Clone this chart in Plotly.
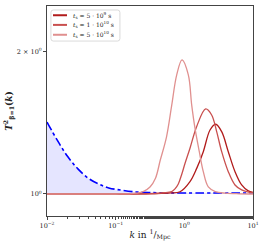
import plotly.graph_objects as go

# ---- data ----
k_dark = [0.01, 0.398, 0.631, 0.865, 1.209, 1.514, 1.888, 2.366, 2.864, 3.499, 4.365, 5.470, 6.839, 8.531, 10.0]
T_dark = [1.0, 1.002, 1.005, 1.011, 1.062, 1.133, 1.229, 1.366, 1.405, 1.355, 1.229, 1.115, 1.045, 1.015, 1.008]

k_mid = [0.01, 0.158, 0.316, 0.501, 0.655, 0.731, 0.817, 0.915, 1.022, 1.209, 1.514, 2.046, 2.500, 2.958, 3.499, 4.365, 5.470, 6.839, 9.036, 10.0]
T_mid = [1.0, 1.0, 1.002, 1.006, 1.012, 1.025, 1.05, 1.10, 1.16, 1.25, 1.39, 1.514, 1.470, 1.355, 1.229, 1.115, 1.045, 1.020, 1.008, 1.006]

k_light = [0.01, 0.1, 0.158, 0.1995, 0.2512, 0.3162, 0.3802, 0.4467, 0.5495, 0.6546, 0.7745, 0.9247, 1.1429, 1.2794, 1.4289, 1.652, 1.888, 2.2336, 2.8184, 3.981, 6.31, 10.0]
T_light = [1.0, 1.0, 1.001, 1.004, 1.012, 1.035, 1.08, 1.18, 1.32, 1.54, 1.787, 1.922, 1.787, 1.544, 1.378, 1.229, 1.115, 1.035, 1.012, 1.004, 1.001, 1.0]

k_blue = [0.01, 0.0141, 0.0200, 0.0282, 0.0398, 0.0562, 0.0794, 0.126, 0.200, 0.316, 1.0, 10.0]
T_blue = [1.42, 1.30, 1.20, 1.13, 1.08, 1.05, 1.03, 1.018, 1.01, 1.007, 1.005, 1.005]
T_base = [1.0] * len(k_blue)

labels = ["<i>t</i><sub>s</sub> = 5 · 10<sup>9</sup> s",
          "<i>t</i><sub>s</sub> = 1 · 10<sup>10</sup> s",
          "<i>t</i><sub>s</sub> = 5 · 10<sup>10</sup> s"]
colors = ["#b11b1b", "#c9504f", "#e0908f"]

x_tickvals = [0.01, 0.1, 1, 10]
x_ticktext = ["10<sup>−2</sup>", "10<sup>−1</sup>", "10<sup>0</sup>", "10<sup>1</sup>"]
y_tickvals = [1, 2]
y_ticktext = ["10<sup>0</sup>", "2 × 10<sup>0</sup>"]

font_family = "DejaVu Serif"

fig = go.Figure()

# fill under blue curve
fig.add_trace(go.Scatter(x=k_blue, y=T_base, mode="lines", line=dict(width=0, color="rgba(0,0,0,0)"),
                         showlegend=False, hoverinfo="skip", line_shape="spline"))
fig.add_trace(go.Scatter(x=k_blue, y=T_blue, mode="lines", fill="tonexty",
                         fillcolor="rgba(80,80,255,0.15)",
                         line=dict(color="#0000ff", width=1.6, dash="dashdot"),
                         showlegend=False, line_shape="spline"))

for kk, TT, lab, col in [(k_dark, T_dark, labels[0], colors[0]),
                         (k_mid, T_mid, labels[1], colors[1]),
                         (k_light, T_light, labels[2], colors[2])]:
    fig.add_trace(go.Scatter(x=kk, y=TT, mode="lines", name=lab, showlegend=False,
                             line=dict(color=col, width=1.3), line_shape="spline"))

# ---- compact legend (drawn in paper coordinates) ----
bx0, bx1, by0, by1 = 0.019, 0.354, 0.833, 0.981
r = 0.012
fig.add_shape(type="path", xref="paper", yref="paper",
              path=(f"M {bx0+r},{by0} L {bx1-r},{by0} Q {bx1},{by0} {bx1},{by0+r} "
                    f"L {bx1},{by1-r} Q {bx1},{by1} {bx1-r},{by1} L {bx0+r},{by1} "
                    f"Q {bx0},{by1} {bx0},{by1-r} L {bx0},{by0+r} Q {bx0},{by0} {bx0+r},{by0} Z"),
              fillcolor="rgba(255,255,255,0.85)", line=dict(color="#d0d0d0", width=0.8), layer="above")
entry_y = [0.956, 0.910, 0.863]
for yy, lab, col in zip(entry_y, labels, colors):
    fig.add_shape(type="line", xref="paper", yref="paper", x0=0.029, x1=0.097, y0=yy, y1=yy,
                  line=dict(color=col, width=2), layer="above")
    fig.add_annotation(xref="paper", yref="paper", x=0.115, y=yy, text=lab, showarrow=False,
                       xanchor="left", yanchor="middle", font=dict(size=6, color="#222"))

fig.update_layout(
    width=264, height=248,
    margin=dict(l=47, r=11, t=6, b=32),
    paper_bgcolor="white", plot_bgcolor="white",
    font=dict(family=font_family, size=7, color="#222"),
    showlegend=False,
)
fig.update_xaxes(type="log", range=[-2, 1], tickvals=x_tickvals, ticktext=x_ticktext,
                 showline=True, linecolor="#444", linewidth=1, mirror=True,
                 ticks="outside", ticklen=3, tickcolor="#444", showgrid=False, zeroline=False,
                 minor=dict(ticks="outside", ticklen=1.5, tickcolor="#444", showgrid=False),
                 tickfont=dict(size=6.5),
                 title=dict(text="<i>k</i> in <sup>1</sup>/<sub>Mpc</sub>", font=dict(size=9), standoff=2))
fig.update_yaxes(type="log", range=[-0.0466, 0.398], tickvals=y_tickvals, ticktext=y_ticktext,
                 showline=True, linecolor="#444", linewidth=1, mirror=True,
                 ticks="outside", ticklen=3, tickcolor="#444", showgrid=False, zeroline=False,
                 tickfont=dict(size=6.5),
                 title=dict(text="<b><i>T</i><sup>2</sup><sub>β=1</sub>(<i>k</i>)</b>", font=dict(size=9), standoff=2))

fig.write_html("out.html", config={"displayModeBar": False},
               post_script="document.body.style.margin='0';document.body.style.padding='0';")
